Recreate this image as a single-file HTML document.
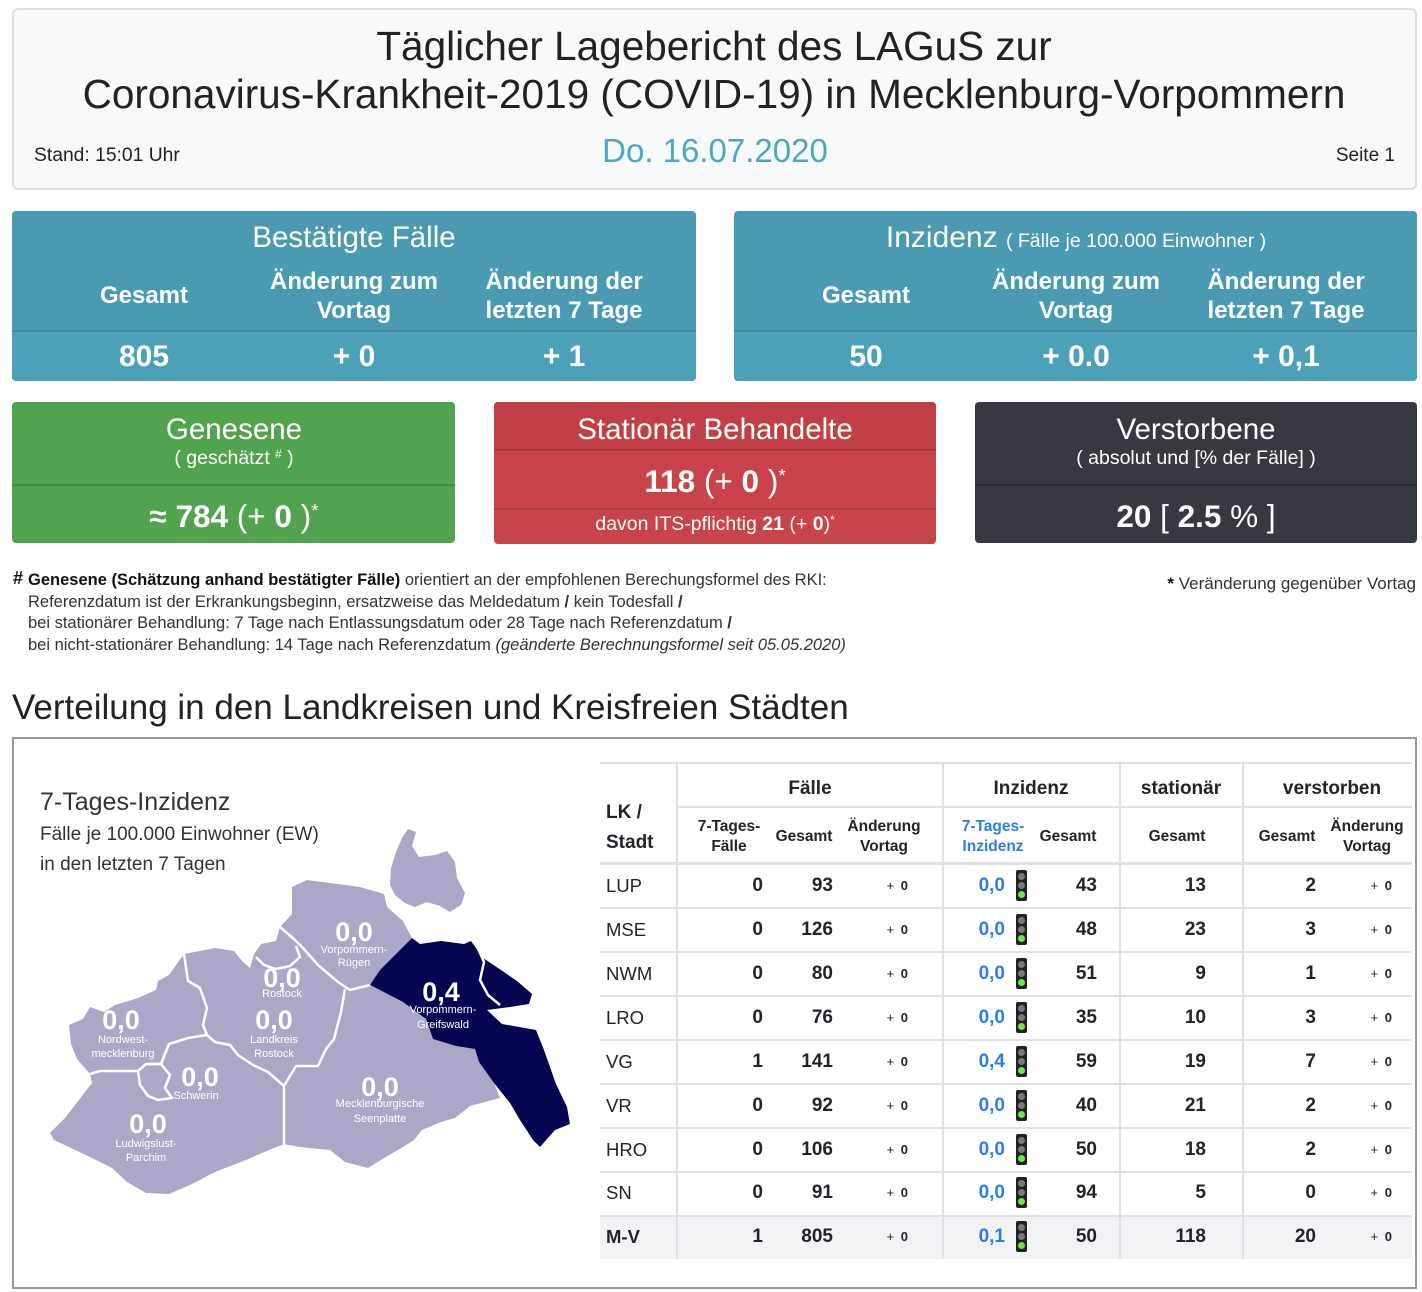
<!DOCTYPE html>
<html><head><meta charset="utf-8">
<style>
*{margin:0;padding:0;box-sizing:border-box}
html,body{width:1422px;height:1292px;background:#fff;overflow:hidden}
body{position:relative;font-family:"Liberation Sans",Arial,sans-serif;color:#212529}
.t{position:absolute;white-space:nowrap;line-height:1}
.cc{text-align:center;width:600px}
.box{position:absolute;border-radius:4px}
.w{color:#fff}
.b{font-weight:bold}
.ln{position:absolute;background:#dee2e6}
.dv{position:absolute;height:2px;background:rgba(0,0,0,0.13)}
.sup{position:relative;top:-0.55em;font-size:0.6em}
.r{position:absolute;left:0;width:1422px;height:44px}
.c{position:absolute;top:0;line-height:44px;font-size:19px;font-weight:bold;white-space:nowrap}
.nm{left:606px;font-weight:normal;font-size:18.5px}
.p{font-size:13px;font-weight:normal;word-spacing:3px}
.p b{font-weight:bold}
.bl{color:#2b7de9}
.tl{position:absolute;left:1016px;top:6px;width:11px;height:31px;background:#222;border-radius:2px}
.tl i{position:absolute;left:2px;width:7px;height:7px;border-radius:50%;background:#7a7a7a}
.tl i.g{background:#5ef03a}
.sh{font-size:15.5px;font-weight:bold;text-align:center;width:200px}
.hd{font-size:24px}
.vl{font-size:30px}
</style></head><body>

<!-- header -->
<div class="box" style="left:12px;top:8px;width:1405px;height:182px;background:#f8f9fa;border:2px solid #dcdfe2;border-radius:6px"></div>
<div class="t" style="left:14px;width:1400px;text-align:center;top:26px;font-size:40.5px;color:#222">Täglicher Lagebericht des LAGuS zur</div>
<div class="t" style="left:14px;width:1400px;text-align:center;top:74px;font-size:40.5px;color:#222">Coronavirus-Krankheit-2019 (COVID-19) in Mecklenburg-Vorpommern</div>
<div class="t cc" style="left:415px;top:134px;font-size:33px;color:#4aa8c0">Do. 16.07.2020</div>
<div class="t" style="left:34px;top:146px;font-size:19.3px;color:#222">Stand: 15:01 Uhr</div>
<div class="t" style="right:27px;top:146px;font-size:19px;color:#222">Seite 1</div>

<!-- teal boxes -->
<div class="box" style="left:12px;top:211px;width:684px;height:170px;background:#4a9bb2"></div>
<div class="box" style="left:12px;top:331px;width:684px;height:50px;background:#4ca0b7;border-radius:0 0 4px 4px"></div>
<div class="dv" style="left:12px;top:330px;width:684px"></div>
<div class="t cc w" style="left:54px;top:223px;font-size:29.5px">Bestätigte Fälle</div>
<div class="t cc w b hd" style="left:-156px;top:284px">Gesamt</div>
<div class="t cc w b hd" style="left:54px;top:270px">Änderung zum</div>
<div class="t cc w b hd" style="left:54px;top:299px">Vortag</div>
<div class="t cc w b hd" style="left:264px;top:270px">Änderung der</div>
<div class="t cc w b hd" style="left:264px;top:299px">letzten 7 Tage</div>
<div class="t cc w b vl" style="left:-156px;top:342px">805</div>
<div class="t cc w b vl" style="left:54px;top:342px">+ 0</div>
<div class="t cc w b vl" style="left:264px;top:342px">+ 1</div>

<div class="box" style="left:734px;top:211px;width:683px;height:170px;background:#4a9bb2"></div>
<div class="box" style="left:734px;top:331px;width:683px;height:50px;background:#4ca0b7;border-radius:0 0 4px 4px"></div>
<div class="dv" style="left:734px;top:330px;width:683px"></div>
<div class="t cc w" style="left:776px;top:223px;font-size:30px">Inzidenz <span style="font-size:19.5px">( Fälle je 100.000 Einwohner )</span></div>
<div class="t cc w b hd" style="left:566px;top:284px">Gesamt</div>
<div class="t cc w b hd" style="left:776px;top:270px">Änderung zum</div>
<div class="t cc w b hd" style="left:776px;top:299px">Vortag</div>
<div class="t cc w b hd" style="left:986px;top:270px">Änderung der</div>
<div class="t cc w b hd" style="left:986px;top:299px">letzten 7 Tage</div>
<div class="t cc w b vl" style="left:566px;top:342px">50</div>
<div class="t cc w b vl" style="left:776px;top:342px">+ 0.0</div>
<div class="t cc w b vl" style="left:986px;top:342px">+ 0,1</div>

<!-- green -->
<div class="box" style="left:12px;top:402px;width:443px;height:141px;background:#52a34f"></div>
<div class="dv" style="left:12px;top:484px;width:443px;background:rgba(0,0,0,0.16)"></div>
<div class="t cc w" style="left:-66px;top:415px;font-size:29.5px">Genesene</div>
<div class="t cc w" style="left:-66px;top:449px;font-size:19.5px">( geschätzt <span class="sup">#</span> )</div>
<div class="t cc w" style="left:-66px;top:501px;font-size:31.5px"><b>≈ 784</b> (+ <b>0</b> )<span class="sup">*</span></div>

<!-- red -->
<div class="box" style="left:494px;top:402px;width:442px;height:142px;background:#c9434a"></div>
<div class="box" style="left:494px;top:402px;width:442px;height:48px;background:#c33f46;border-radius:4px 4px 0 0"></div>
<div class="dv" style="left:494px;top:449px;width:442px;background:rgba(0,0,0,0.15)"></div>
<div class="dv" style="left:494px;top:508px;width:442px;background:rgba(0,0,0,0.15)"></div>
<div class="t cc w" style="left:415px;top:415px;font-size:29.5px">Stationär Behandelte</div>
<div class="t cc w" style="left:415px;top:466px;font-size:31.5px"><b>118</b> (+ <b>0</b> )<span class="sup">*</span></div>
<div class="t cc w" style="left:415px;top:515px;font-size:19.5px">davon ITS-pflichtig <b>21</b> (+ <b>0</b>)<span class="sup">*</span></div>

<!-- dark -->
<div class="box" style="left:975px;top:402px;width:442px;height:141px;background:#343a40"></div>
<div class="dv" style="left:975px;top:484px;width:442px;background:rgba(0,0,0,0.25)"></div>
<div class="t cc w" style="left:896px;top:415px;font-size:29.5px">Verstorbene</div>
<div class="t cc w" style="left:896px;top:449px;font-size:19.5px">( absolut und [% der Fälle] )</div>
<div class="t cc w" style="left:896px;top:501px;font-size:31.5px"><b>20</b> [ <b>2.5</b> % ]</div>

<!-- footnotes -->
<div class="t b" style="left:13px;top:569px;font-size:18px;color:#111">#</div>
<div class="t" style="left:28px;top:572px;font-size:16.5px;color:#333"><b style="color:#111">Genesene (Schätzung anhand bestätigter Fälle)</b> orientiert an der empfohlenen Berechungsformel des RKI:</div>
<div class="t" style="left:28px;top:594px;font-size:16.5px;color:#333">Referenzdatum ist der Erkrankungsbeginn, ersatzweise das Meldedatum <b>/</b> kein Todesfall <b>/</b></div>
<div class="t" style="left:28px;top:615px;font-size:16.5px;color:#333">bei stationärer Behandlung: 7 Tage nach Entlassungsdatum oder 28 Tage nach Referenzdatum <b>/</b></div>
<div class="t" style="left:28px;top:637px;font-size:16.5px;color:#333">bei nicht-stationärer Behandlung: 14 Tage nach Referenzdatum <i>(geänderte Berechnungsformel seit 05.05.2020)</i></div>
<div class="t" style="right:6px;top:575px;font-size:17px;color:#333"><b style="color:#111">*</b> Veränderung gegenüber Vortag</div>

<!-- heading -->
<div class="t" style="left:12px;top:690px;font-size:35px;color:#222">Verteilung in den Landkreisen und Kreisfreien Städten</div>
<div class="box" style="left:12px;top:737px;width:1405px;height:552px;border:2px solid #999;border-radius:0"></div>

<!-- map -->
<div class="t" style="left:40px;top:790px;font-size:25px;color:#333">7-Tages-Inzidenz</div>
<div class="t" style="left:40px;top:825px;font-size:19px;color:#333">Fälle je 100.000 Einwohner (EW)</div>
<div class="t" style="left:40px;top:855px;font-size:19px;color:#333">in den letzten 7 Tagen</div>

<svg class="t" style="left:0;top:0" width="1422" height="1292" viewBox="0 0 1422 1292">
<path fill="#a9a9c7" d="M50,1133 L65,1118 L92,1083 L90,1074 L77,1059 L71,1044 L69,1025 L83,1019 L90,1007 L104,1012 L115,1005 L138,998 L156,990 L158,981 L169,975 L179,961 L184,954 L215,948 L234,951 L242,961 L250,968 L254,954 L261,944 L276,941 L280,927 L292,914 L292,887 L307,880 L338,884 L360,887 L384,894 L387,907 L403,921 L412,938 L395,955 L380,970 L370,985 L403,1002 L426,1019 L433,1039 L456,1046 L475,1049 L479,1062 L494,1083 L500,1098 L470,1106 L455,1118 L441,1122 L422,1130 L414,1140 L403,1147 L384,1158 L368,1168 L345,1162 L330,1150 L299,1147 L284,1144 L269,1150 L246,1160 L215,1172 L192,1184 L169,1194 L146,1193 L127,1182 L112,1168 L92,1158 L69,1147 L54,1140 Z"/>
<path fill="#a9a9c7" d="M390,885 L391,868 L396,852 L402,838 L408,829 L416,832 L412,846 L419,857 L435,855 L447,851 L455,862 L457,878 L465,893 L461,905 L450,912 L440,906 L427,902 L415,907 L405,903 L395,895 Z"/>
<path fill="#050552" d="M370,985 L380,970 L395,955 L412,938 L420,944 L441,941 L464,944 L471,941 L483,958 L498,968 L517,981 L532,994 L529,1004 L510,1007 L487,1010 L502,1024 L536,1030 L544,1050 L556,1084 L567,1107 L570,1124 L555,1130 L540,1147 L533,1140 L520,1120 L510,1103 L494,1083 L479,1062 L475,1049 L456,1046 L433,1039 L426,1019 L403,1002 Z"/>
<g fill="none" stroke="#fff" stroke-width="2.5" stroke-linejoin="round">
<path d="M280,927 L295,940 L303,948 L318,965 L338,982 L350,990 L370,985"/>
<path d="M345,989 L341,1012 L334,1039 L326,1049 L318,1066 L296,1066 L284,1086 L284,1117 L284,1146"/>
<path d="M256,957 L264,965 L276,969 L290,966 L300,957 L296,946"/>
<path d="M184,954 L188,981 L200,988 L207,1008 L203,1025 L207,1035 L215,1042 L230,1045 L238,1055 L253,1065 L268,1072 L284,1086"/>
<path d="M207,1035 L188,1038 L169,1044 L161,1064 L146,1064 L138,1071 L115,1071 L100,1071 L90,1074"/>
<path d="M146,1064 L161,1064 L170,1075 L165,1088 L172,1098 L158,1100 L148,1096 L140,1085 L138,1071"/>
<path d="M476,944 L484,962 L480,980 L488,995 L500,1005" stroke-width="2.5"/>
</g>
<g fill="#fff" font-family="Liberation Sans, Arial, sans-serif" text-anchor="middle">
<g font-size="27" font-weight="bold">
<text x="354" y="941">0,0</text>
<text x="282" y="987">0,0</text>
<text x="121" y="1029">0,0</text>
<text x="274" y="1029">0,0</text>
<text x="200" y="1086">0,0</text>
<text x="148" y="1133">0,0</text>
<text x="380" y="1096">0,0</text>
<text x="441" y="1001">0,4</text>
</g>
<g font-size="11">
<text x="354" y="953">Vorpommern-</text>
<text x="354" y="966">Rügen</text>
<text x="282" y="997">Rostock</text>
<text x="123" y="1043">Nordwest-</text>
<text x="123" y="1057">mecklenburg</text>
<text x="274" y="1043">Landkreis</text>
<text x="274" y="1057">Rostock</text>
<text x="196" y="1099">Schwerin</text>
<text x="146" y="1147">Ludwigslust-</text>
<text x="146" y="1161">Parchim</text>
<text x="380" y="1107">Mecklenburgische</text>
<text x="380" y="1122">Seenplatte</text>
<text x="443" y="1013">Vorpommern-</text>
<text x="443" y="1028">Greifswald</text>
</g>
</g>
</svg>

<!-- table lines -->
<div class="ln" style="left:600px;top:1215px;width:812px;height:44px;background:#f2f3f5"></div>
<div class="ln" style="left:600px;top:762px;width:812px;height:2px"></div>
<div class="ln" style="left:677px;top:806px;width:735px;height:2px"></div>
<div class="ln" style="left:600px;top:862px;width:812px;height:3px"></div>
<div class="ln" style="left:600px;top:907px;width:812px;height:1.5px"></div>
<div class="ln" style="left:600px;top:951px;width:812px;height:1.5px"></div>
<div class="ln" style="left:600px;top:995px;width:812px;height:1.5px"></div>
<div class="ln" style="left:600px;top:1039px;width:812px;height:1.5px"></div>
<div class="ln" style="left:600px;top:1083px;width:812px;height:1.5px"></div>
<div class="ln" style="left:600px;top:1127px;width:812px;height:1.5px"></div>
<div class="ln" style="left:600px;top:1171px;width:812px;height:1.5px"></div>
<div class="ln" style="left:600px;top:1215px;width:812px;height:1.5px"></div>
<div class="ln" style="left:676px;top:762px;width:2px;height:497px"></div>
<div class="ln" style="left:942px;top:762px;width:2px;height:497px"></div>
<div class="ln" style="left:1119px;top:762px;width:2px;height:497px"></div>
<div class="ln" style="left:1242px;top:762px;width:2px;height:497px"></div>

<!-- table header -->
<div class="t b" style="left:510px;width:600px;text-align:center;top:779px;font-size:19px">Fälle</div>
<div class="t b" style="left:731px;width:600px;text-align:center;top:779px;font-size:19px">Inzidenz</div>
<div class="t b" style="left:881px;width:600px;text-align:center;top:779px;font-size:19px">stationär</div>
<div class="t b" style="left:1032px;width:600px;text-align:center;top:779px;font-size:19px">verstorben</div>
<div class="t b" style="left:606px;top:803px;font-size:19px">LK /</div>
<div class="t b" style="left:606px;top:833px;font-size:19px">Stadt</div>
<div class="t sh" style="left:629px;top:819px">7-Tages-</div>
<div class="t sh" style="left:629px;top:839px">Fälle</div>
<div class="t sh" style="left:704px;top:829px">Gesamt</div>
<div class="t sh" style="left:784px;top:819px">Änderung</div>
<div class="t sh" style="left:784px;top:839px">Vortag</div>
<div class="t sh" style="left:893px;top:819px;color:#2b7de9">7-Tages-</div>
<div class="t sh" style="left:893px;top:839px;color:#2b7de9">Inzidenz</div>
<div class="t sh" style="left:968px;top:829px">Gesamt</div>
<div class="t sh" style="left:1077px;top:829px">Gesamt</div>
<div class="t sh" style="left:1187px;top:829px">Gesamt</div>
<div class="t sh" style="left:1267px;top:819px">Änderung</div>
<div class="t sh" style="left:1267px;top:839px">Vortag</div>

<!-- rows -->
<div class="r" style="top:864px"><span class="c nm">LUP</span><span class="c" style="right:659px">0</span><span class="c" style="right:589px">93</span><span class="c p" style="right:514px">+ <b>0</b></span><span class="c bl" style="right:417px">0,0</span><div class="tl"><i style="top:3px"></i><i style="top:12px"></i><i class="g" style="top:21px"></i></div><span class="c" style="right:325px">43</span><span class="c" style="right:216px">13</span><span class="c" style="right:106px">2</span><span class="c p" style="right:30px">+ <b>0</b></span></div>
<div class="r" style="top:908px"><span class="c nm">MSE</span><span class="c" style="right:659px">0</span><span class="c" style="right:589px">126</span><span class="c p" style="right:514px">+ <b>0</b></span><span class="c bl" style="right:417px">0,0</span><div class="tl"><i style="top:3px"></i><i style="top:12px"></i><i class="g" style="top:21px"></i></div><span class="c" style="right:325px">48</span><span class="c" style="right:216px">23</span><span class="c" style="right:106px">3</span><span class="c p" style="right:30px">+ <b>0</b></span></div>
<div class="r" style="top:952px"><span class="c nm">NWM</span><span class="c" style="right:659px">0</span><span class="c" style="right:589px">80</span><span class="c p" style="right:514px">+ <b>0</b></span><span class="c bl" style="right:417px">0,0</span><div class="tl"><i style="top:3px"></i><i style="top:12px"></i><i class="g" style="top:21px"></i></div><span class="c" style="right:325px">51</span><span class="c" style="right:216px">9</span><span class="c" style="right:106px">1</span><span class="c p" style="right:30px">+ <b>0</b></span></div>
<div class="r" style="top:996px"><span class="c nm">LRO</span><span class="c" style="right:659px">0</span><span class="c" style="right:589px">76</span><span class="c p" style="right:514px">+ <b>0</b></span><span class="c bl" style="right:417px">0,0</span><div class="tl"><i style="top:3px"></i><i style="top:12px"></i><i class="g" style="top:21px"></i></div><span class="c" style="right:325px">35</span><span class="c" style="right:216px">10</span><span class="c" style="right:106px">3</span><span class="c p" style="right:30px">+ <b>0</b></span></div>
<div class="r" style="top:1040px"><span class="c nm">VG</span><span class="c" style="right:659px">1</span><span class="c" style="right:589px">141</span><span class="c p" style="right:514px">+ <b>0</b></span><span class="c bl" style="right:417px">0,4</span><div class="tl"><i style="top:3px"></i><i style="top:12px"></i><i class="g" style="top:21px"></i></div><span class="c" style="right:325px">59</span><span class="c" style="right:216px">19</span><span class="c" style="right:106px">7</span><span class="c p" style="right:30px">+ <b>0</b></span></div>
<div class="r" style="top:1084px"><span class="c nm">VR</span><span class="c" style="right:659px">0</span><span class="c" style="right:589px">92</span><span class="c p" style="right:514px">+ <b>0</b></span><span class="c bl" style="right:417px">0,0</span><div class="tl"><i style="top:3px"></i><i style="top:12px"></i><i class="g" style="top:21px"></i></div><span class="c" style="right:325px">40</span><span class="c" style="right:216px">21</span><span class="c" style="right:106px">2</span><span class="c p" style="right:30px">+ <b>0</b></span></div>
<div class="r" style="top:1128px"><span class="c nm">HRO</span><span class="c" style="right:659px">0</span><span class="c" style="right:589px">106</span><span class="c p" style="right:514px">+ <b>0</b></span><span class="c bl" style="right:417px">0,0</span><div class="tl"><i style="top:3px"></i><i style="top:12px"></i><i class="g" style="top:21px"></i></div><span class="c" style="right:325px">50</span><span class="c" style="right:216px">18</span><span class="c" style="right:106px">2</span><span class="c p" style="right:30px">+ <b>0</b></span></div>
<div class="r" style="top:1171px"><span class="c nm">SN</span><span class="c" style="right:659px">0</span><span class="c" style="right:589px">91</span><span class="c p" style="right:514px">+ <b>0</b></span><span class="c bl" style="right:417px">0,0</span><div class="tl"><i style="top:3px"></i><i style="top:12px"></i><i class="g" style="top:21px"></i></div><span class="c" style="right:325px">94</span><span class="c" style="right:216px">5</span><span class="c" style="right:106px">0</span><span class="c p" style="right:30px">+ <b>0</b></span></div>
<div class="r" style="top:1215px"><span class="c nm" style="font-weight:bold">M-V</span><span class="c" style="right:659px">1</span><span class="c" style="right:589px">805</span><span class="c p" style="right:514px">+ <b>0</b></span><span class="c bl" style="right:417px">0,1</span><div class="tl"><i style="top:3px"></i><i style="top:12px"></i><i class="g" style="top:21px"></i></div><span class="c" style="right:325px">50</span><span class="c" style="right:216px">118</span><span class="c" style="right:106px">20</span><span class="c p" style="right:30px">+ <b>0</b></span></div>

</body></html>
